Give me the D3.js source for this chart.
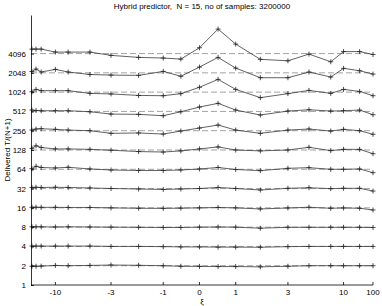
<!DOCTYPE html>
<html>
  <head>
    <title>Hybrid predictor</title>
    <meta charset="utf-8">
    <style>
      body {
        margin: 0;
        background-color: white;
      }

      svg text {
        font-family: "Liberation Sans", Arial, sans-serif;
        fill: black;
      }

      .axis text {
        font-size: 8px;
      }

      .axis path,
      .axis line {
        fill: none;
        stroke: #000;
        stroke-width: 0.8px;
      }

      .title {
        white-space: pre;
      }

      .refline {
        fill: none;
        stroke: #8c8c8c;
        stroke-width: 0.8px;
        stroke-dasharray: 6,3;
      }

      .series {
        fill: none;
        stroke: #3a3a3a;
        stroke-width: 0.8px;
      }

      .marker {
        stroke: #222;
        stroke-width: 0.8px;
      }
    </style>
  </head>
  <body>
  <svg class="graph"></svg>
  <script src="https://d3js.org/d3.v7.min.js"></script>
  <script>
    // xi values of the samples
    var xi = [-36, -25, -18, -10, -7, -4.4, -3, -1.8, -1, -0.5, 0, 0.5, 1, 1.8, 3, 4.4, 7, 10, 20, 100];

    var xTicks = [-10, -3, -1, 0, 1, 3, 10, 100];
    var yTicks = [1, 2, 4, 8, 16, 32, 64, 128, 256, 512, 1024, 2048, 4096];

    // reference levels (dashed lines), one per series
    var levels = [4096, 2048, 1024, 512, 256, 128, 64, 32, 16, 8, 4, 2];

    // delivered T/(N+1), one array per level
    var t4096 = [4810, 4810, 4810, 4320, 4320, 4320, 3840, 3570, 3490, 3360, 5050, 9880, 5760, 3330, 3160, 4020, 3050, 4400, 4400, 3960];
    var t2048 = [2150, 2350, 2110, 2320, 2110, 1930, 1890, 1870, 2160, 1810, 2520, 3570, 2430, 1720, 1720, 2110, 1760, 2410, 2210, 1960];
    var t1024 = [1040, 1130, 1080, 1080, 1080, 980, 960, 910, 900, 970, 1220, 1620, 1130, 840, 970, 1090, 980, 1130, 1050, 900];
    var t512 = [538, 529, 525, 525, 525, 506, 466, 461, 439, 506, 600, 685, 538, 450, 519, 544, 519, 525, 538, 455];
    var t256 = [262, 272, 275, 269, 262, 256, 233, 236, 227, 253, 282, 314, 262, 233, 262, 272, 253, 269, 256, 225];
    var t128 = [136, 149, 140, 133, 133, 131, 127, 121, 119, 124, 133, 143, 128, 124, 128, 141, 125, 131, 131, 112];
    var t64 = [65.4, 71.3, 68.3, 67.1, 68.8, 64.7, 62.4, 61.3, 61.3, 62.4, 64.7, 68.3, 63.5, 60.9, 66.3, 67.8, 64, 64, 64.7, 56.6];
    var t32 = [33.3, 33.5, 33.3, 33.5, 33.3, 32.7, 32.1, 31.5, 31.0, 31.5, 32.1, 33.3, 32.1, 30.4, 32.3, 33.0, 31.9, 32.3, 32.3, 29.3];
    var t16 = [16.35, 16.35, 16.3, 16.3, 16.23, 16.23, 16, 15.77, 15.71, 15.83, 16, 16.23, 16, 15.38, 15.94, 16.35, 15.77, 15.94, 15.77, 14.83];
    var t8 = [8.1, 8.1, 8.1, 8.05, 8.1, 8.05, 8.0, 7.95, 7.9, 7.9, 8.0, 8.05, 8.0, 7.7, 7.95, 7.95, 7.95, 7.95, 7.95, 7.9];
    var t4 = [4.05, 4.05, 4.05, 4.05, 4.05, 4.05, 4.0, 4.0, 3.97, 3.93, 3.93, 3.9, 3.9, 3.88, 3.97, 4.0, 4.0, 4.0, 4.0, 4.0];
    var t2 = [1.96, 1.96, 1.97, 2.02, 2.0, 2.02, 2.05, 2.03, 2.0, 1.96, 1.95, 1.94, 1.94, 1.92, 1.96, 2.0, 2.0, 2.0, 2.0, 2.0];

    var series = [t4096, t2048, t1024, t512, t256, t128, t64, t32, t16, t8, t4, t2];

    var W = 382, H = 306;
    var margin = {top: 15, right: 9, bottom: 21, left: 31};

    var svg = d3.select("svg")
      .attr("width", W)
      .attr("height", H);

    // the xi axis is squeezed with atan(xi/3)
    var squash = function(v) { return Math.atan(v / 3); };
    var u = d3.scaleLinear()
      .domain([squash(-40), squash(100)])
      .range([margin.left, W - margin.right]);
    var x = function(v) { return u(squash(v)); };

    var y = d3.scaleLog()
      .base(2)
      .domain([1, 16384])
      .range([H - margin.bottom, margin.top]);

    // dashed reference lines
    svg.selectAll(".refline")
      .data(levels)
      .enter().append("line")
      .attr("class", "refline")
      .attr("x1", margin.left)
      .attr("x2", W - margin.right)
      .attr("y1", function(d) { return y(d); })
      .attr("y2", function(d) { return y(d); });

    var line = d3.line()
      .x(function(d, i) { return x(xi[i]); })
      .y(function(d) { return y(d); });

    var g = svg.selectAll(".sgroup")
      .data(series)
      .enter().append("g")
      .attr("class", "sgroup");

    g.append("path")
      .attr("class", "series")
      .attr("d", function(d) { return line(d); });

    // "+" markers
    var m = 2.5;
    g.selectAll(".mk")
      .data(function(d) { return d.map(function(v, i) { return [xi[i], v]; }); })
      .enter().append("path")
      .attr("class", "marker")
      .attr("d", function(d) {
        var px = x(d[0]), py = y(d[1]);
        return "M" + (px - m) + "," + py + "H" + (px + m) + "M" + px + "," + (py - m) + "V" + (py + m);
      });

    // x axis by hand since the scale is atan-warped; ticks point inward
    var xg = svg.append("g")
      .attr("class", "x axis")
      .attr("transform", "translate(0," + (H - margin.bottom) + ")");
    xg.append("line")
      .attr("x1", margin.left)
      .attr("x2", W - margin.right);
    var xt = xg.selectAll(".tick")
      .data(xTicks)
      .enter().append("g")
      .attr("class", "tick")
      .attr("transform", function(d) { return "translate(" + x(d) + ",0)"; });
    xt.append("line")
      .attr("y2", -3);
    xt.append("text")
      .attr("y", 10)
      .style("text-anchor", "middle")
      .text(function(d) { return d < 0 ? "-" + Math.abs(d) : d; });

    svg.append("g")
      .attr("class", "y axis")
      .attr("transform", "translate(" + margin.left + ",0)")
      .call(d3.axisLeft(y)
        .tickValues(yTicks)
        .tickSizeInner(-3)
        .tickSizeOuter(0)
        .tickPadding(5)
        .tickFormat(d3.format("d")));

    // title and labels
    svg.append("text")
      .attr("class", "title")
      .attr("x", (margin.left + W - margin.right) / 2)
      .attr("y", 9)
      .style("text-anchor", "middle")
      .style("font-size", "8px")
      .text("Hybrid predictor,  N = 15, no of samples: 3200000");

    svg.append("text")
      .attr("transform", "rotate(-90)")
      .attr("x", -(margin.top + H - margin.bottom) / 2)
      .attr("y", 10)
      .style("text-anchor", "middle")
      .style("font-size", "8px")
      .text("Delivered T/(N+1)");

    svg.append("text")
      .attr("x", (margin.left + W - margin.right) / 2)
      .attr("y", 304)
      .style("text-anchor", "middle")
      .style("font-size", "8px")
      .text("ξ");
  </script>
  </body>
</html>
